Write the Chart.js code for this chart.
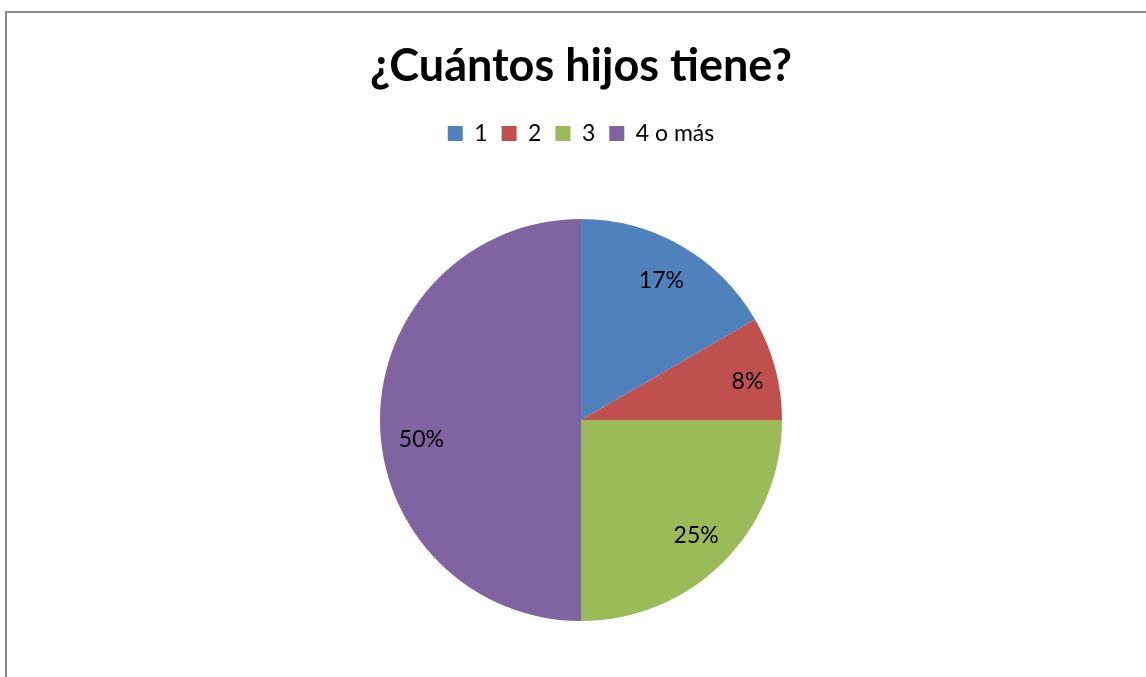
<!DOCTYPE html>
<html>
<head>
<meta charset="utf-8">
<script src="https://cdn.jsdelivr.net/npm/chart.js@4/dist/chart.umd.min.js"></script>
<style>
  html, body { margin: 0; padding: 0; background: #fff; overflow: hidden; }
  #wrap { position: absolute; left: 0; top: 0; width: 1146px; height: 677px; }
  #frame { position: absolute; left: 5px; top: 11px; width: 2000px; height: 2000px; border: 2px solid #8c8c8c; box-sizing: border-box; }
  canvas { position: absolute; left: 0; top: 0; }
</style>
</head>
<body>
<div id="wrap">
  <div id="frame"></div>
  <canvas id="c" width="1146" height="677"></canvas>
</div>
<script>
const titleText = "¿Cuántos hijos tiene?";
const categories = ["1", "2", "3", "4 o más"];
const counts = [2, 1, 3, 6];
const colors = ["#4F81BD", "#C0504D", "#9BBB59", "#8064A2"];
const labelRadiusFrac = [0.8, 0.85, 0.81, 0.8];
const labelAngleShiftDeg = [0, 2, 0, -7];

const FONT = "Lato, 'Open Sans', sans-serif";

const pctLabels = {
  id: 'pctLabels',
  afterDatasetsDraw(chart) {
    const ctx = chart.ctx;
    const meta = chart.getDatasetMeta(0);
    const data = chart.data.datasets[0].data;
    const total = data.reduce((a, b) => a + b, 0);
    ctx.save();
    ctx.font = "23px " + FONT;
    ctx.fillStyle = "#000";
    ctx.textAlign = "center";
    ctx.textBaseline = "middle";
    meta.data.forEach((arc, i) => {
      const p = arc.getProps(['x', 'y', 'startAngle', 'endAngle', 'outerRadius'], true);
      const mid = (p.startAngle + p.endAngle) / 2 + labelAngleShiftDeg[i] * Math.PI / 180;
      const r = p.outerRadius * labelRadiusFrac[i];
      const tx = p.x + Math.cos(mid) * r;
      const ty = p.y + Math.sin(mid) * r;
      ctx.fillText(Math.round(data[i] / total * 100) + "%", tx, ty);
    });
    ctx.restore();
  }
};

const legendGap = {
  id: 'legendGap',
  beforeInit(chart) {
    const lg = chart.legend;
    if (!lg) return;
    const origFit = lg.fit;
    lg.fit = function () {
      origFit.call(this);
      this.height += 64;
    };
  }
};

new Chart(document.getElementById('c'), {
  type: 'pie',
  data: {
    labels: categories,
    datasets: [{
      data: counts,
      backgroundColor: colors,
      borderWidth: 0
    }]
  },
  options: {
    responsive: false,
    animation: false,
    layout: { padding: { left: 16, right: 0, top: 0, bottom: 56 } },
    plugins: {
      title: {
        display: true,
        text: titleText,
        color: "#000",
        font: { family: FONT, size: 45, weight: 'bold' },
        padding: { top: 39, bottom: 15 }
      },
      legend: {
        display: true,
        position: 'top',
        labels: {
          color: "#000",
          font: { family: FONT, size: 23 },
          boxWidth: 15,
          boxHeight: 15,
          padding: 14
        }
      },
      tooltip: { enabled: false }
    }
  },
  plugins: [pctLabels, legendGap]
});
</script>
</body>
</html>
